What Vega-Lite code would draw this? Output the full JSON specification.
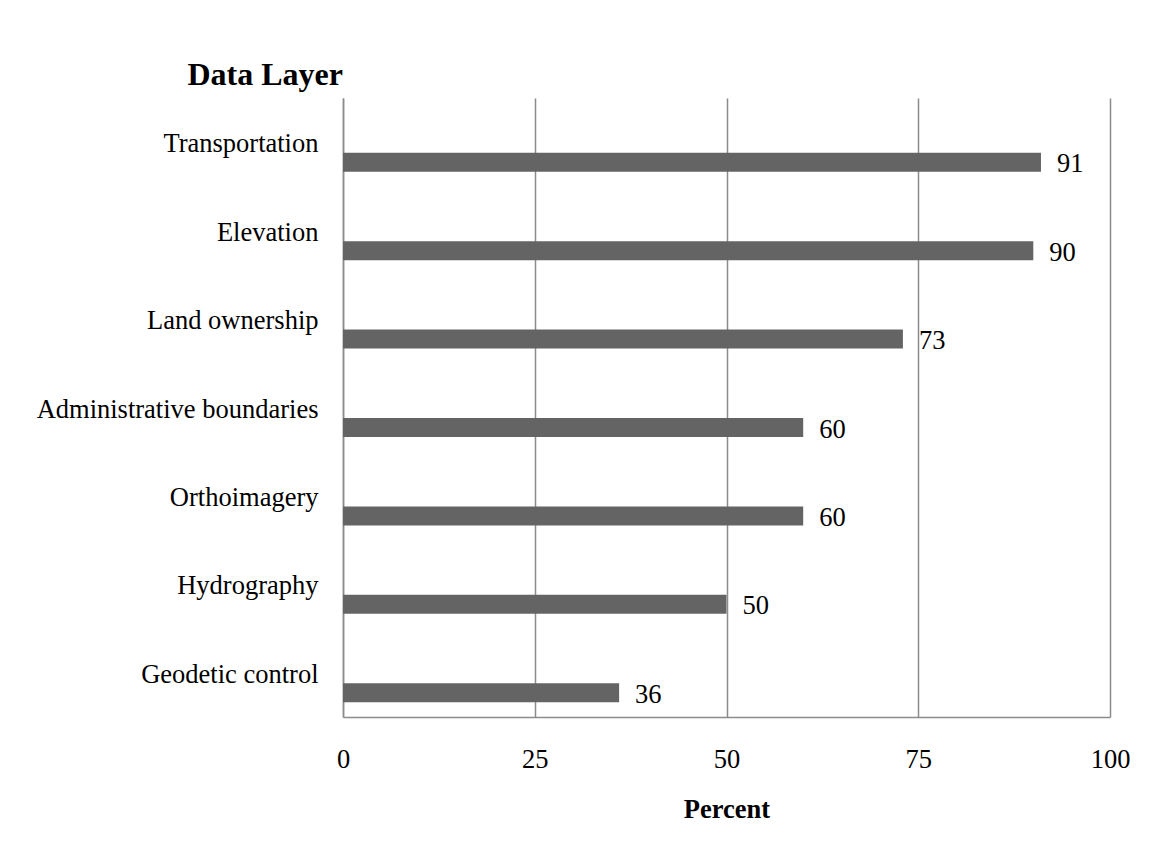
{
  "$schema": "https://vega.github.io/schema/vega-lite/v6.json",
  "autosize": {"type": "none"},
  "padding": {"left": 343, "top": 98, "right": 43, "bottom": 135},
  "width": 767,
  "height": 619,
  "background": "white",
  "title": {
    "text": "Data Layer",
    "anchor": "start",
    "align": "right",
    "frame": "group",
    "font": "Liberation Serif",
    "fontSize": 32,
    "fontWeight": "bold",
    "color": "black",
    "offset": 6
  },
  "data": {
    "values": [
      {"layer": "Transportation", "percent": 91},
      {"layer": "Elevation", "percent": 90},
      {"layer": "Land ownership", "percent": 73},
      {"layer": "Administrative boundaries", "percent": 60},
      {"layer": "Orthoimagery", "percent": 60},
      {"layer": "Hydrography", "percent": 50},
      {"layer": "Geodetic control", "percent": 36}
    ]
  },
  "encoding": {
    "y": {
      "field": "layer",
      "type": "nominal",
      "sort": null,
      "scale": {"paddingInner": 0, "paddingOuter": 0},
      "axis": {
        "title": null,
        "ticks": false,
        "grid": false,
        "labelFont": "Liberation Serif",
        "labelFontSize": 26.5,
        "labelColor": "black",
        "labelPadding": 25,
        "labelLimit": 400,
        "labelOffset": 2,
        "domainColor": "#8c8c8c",
        "domainWidth": 1.5
      }
    },
    "x": {
      "field": "percent",
      "type": "quantitative",
      "scale": {"domain": [0, 100], "nice": false},
      "axis": {
        "title": "Percent",
        "titleFont": "Liberation Serif",
        "titleFontSize": 26.5,
        "titleFontWeight": "bold",
        "titleColor": "black",
        "titlePadding": 24,
        "values": [0, 25, 50, 75, 100],
        "ticks": false,
        "grid": true,
        "gridColor": "#8c8c8c",
        "gridWidth": 1.5,
        "gridOpacity": 1,
        "labelFont": "Liberation Serif",
        "labelFontSize": 26.5,
        "labelColor": "black",
        "labelPadding": 29,
        "labelFlush": false,
        "domainColor": "#8c8c8c",
        "domainWidth": 1.5
      }
    }
  },
  "layer": [
    {
      "mark": {"type": "bar", "height": 19, "yOffset": 20, "color": "#646464"}
    },
    {
      "mark": {
        "type": "text",
        "align": "left",
        "baseline": "middle",
        "dx": 16,
        "yOffset": 22,
        "font": "Liberation Serif",
        "fontSize": 26.5,
        "color": "black"
      },
      "encoding": {"text": {"field": "percent", "type": "quantitative"}}
    }
  ],
  "config": {"view": {"stroke": null}}
}
